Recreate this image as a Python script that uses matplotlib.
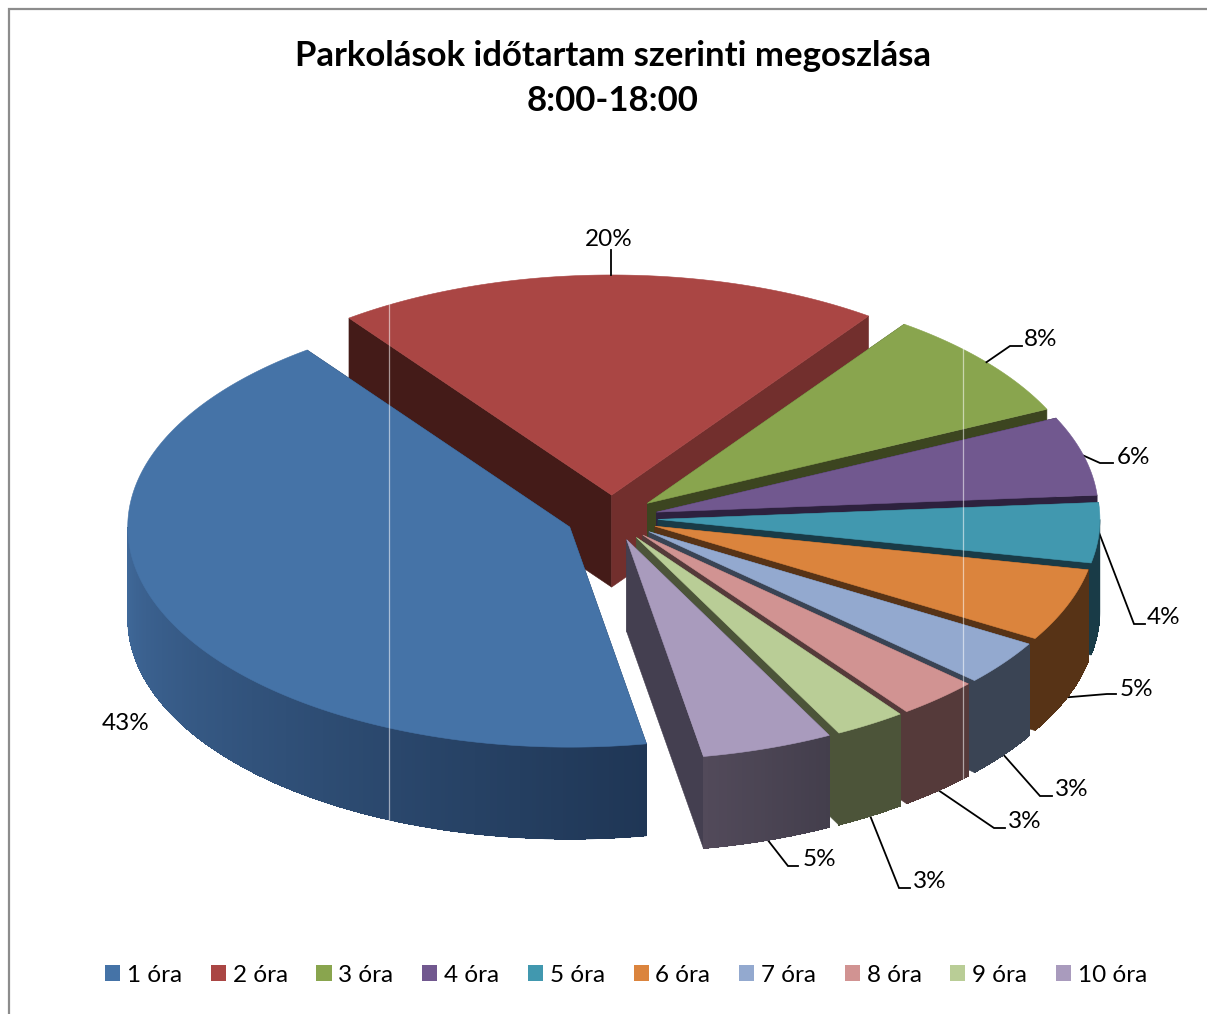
import numpy as np
import matplotlib
matplotlib.use("Agg")
import matplotlib.pyplot as plt
from matplotlib.patches import Polygon, Patch
from matplotlib.colors import to_rgb

# ---- data ----
categories = ["1 óra", "2 óra", "3 óra", "4 óra", "5 óra", "6 óra", "7 óra", "8 óra", "9 óra", "10 óra"]
shares = [42.65, 20.0, 8.1, 5.8, 4.4, 5.35, 3.3, 3.0, 2.6, 4.8]
title_lines = ["Parkolások időtartam szerinti megoszlása", "8:00-18:00"]

# ---- style ----
top_colors = ["#4573a7", "#aa4644", "#89a54e", "#71588f", "#4198af",
              "#db843d", "#93a9cf", "#d19392", "#b9cd96", "#a99bbd"]
wall_near = ["#40699a", "#722f2d", "#4c5439", "#2d213e", "#193b47",
             "#573316", "#3a4454", "#553a3a", "#4c5439", "#524a5a"]
wall_far = ["#1f3655", "#722f2d", "#4c5439", "#2d213e", "#193b47",
            "#573316", "#3a4454", "#553a3a", "#4c5439", "#433e4c"]
cut_end = ["#1f3655", "#722f2d", "#3c4520", "#2d213e", "#193b47",
           "#573316", "#3a4454", "#553a3a", "#4c5439", "#443f50"]
cut_start = ["#1f3655", "#441b18", "#3c4520", "#2d213e", "#193b47",
             "#573316", "#3a4454", "#553a3a", "#4c5439", "#443f50"]

W, H = 1207, 1014
CX, CY = 612, 518
RX, SQUASH = 442, 0.498
EXPLODE = 46
DEPTH = 92
START = 170.0
FS_LABEL = 17.5

# leader routes: slice index -> elbow, end, label centre
leaders = {
    1: [(611, 250), (611, 250), (609, 240)],
    2: [(1010, 346), (1022, 346), (1041, 340)],
    3: [(1100, 463), (1113, 463), (1133, 457)],
    4: [(1134, 624), (1145, 624), (1164, 617)],
    5: [(1107, 694), (1116, 694), (1136, 689)],
    6: [(1040, 796), (1052, 796), (1072, 790)],
    7: [(994, 828), (1005, 828), (1025, 822)],
    8: [(899, 888), (910, 888), (930, 882)],
    9: [(788, 866), (798, 866), (819, 860)],
}
leader_anchor_drop = {1: 0, 2: 0, 3: 0, 4: 0, 5: DEPTH, 6: DEPTH, 7: DEPTH, 8: DEPTH, 9: DEPTH}
label_plain = {0: (126, 723)}

plt.rcParams["font.family"] = ["Lato", "DejaVu Sans"]
fig = plt.figure(figsize=(W / 100, H / 100), dpi=100, facecolor="white")
ax = fig.add_axes([0, 0, 1, 1])
ax.set_xlim(0, W)
ax.set_ylim(H, 0)
ax.axis("off")

spans = np.array(shares) / sum(shares) * 360
starts = (START + np.concatenate([[0], np.cumsum(spans)[:-1]])) % 360
ends = starts + spans


def apex_of(mid):
    m = np.radians(mid)
    return np.array([CX + EXPLODE * np.sin(m), CY - EXPLODE * SQUASH * np.cos(m)])


def rim(apex, deg):
    d = np.radians(deg)
    return np.column_stack([apex[0] + RX * np.sin(d), apex[1] - RX * SQUASH * np.cos(d)])


def mix(a, b, t):
    a, b = np.array(to_rgb(a)), np.array(to_rgb(b))
    return tuple(a + (b - a) * t)


z = 2
anchors = {}
# painter's order: from the back of the pie to the front, the big slice last
for i in [1, 2, 3, 4, 5, 6, 7, 8, 9, 0]:
    a0, a1 = starts[i], ends[i]
    mid = (a0 + a1) / 2
    ap = apex_of(mid)
    down = np.array([0, DEPTH])
    for deg, col in ((a0, cut_start[i]), (a1, cut_end[i])):
        p = rim(ap, np.array([deg]))[0]
        ax.add_patch(Polygon([ap, p, p + down, ap + down], closed=True, fc=col, ec=col, lw=0.4, zorder=z))
        z += 1
    # outer wall, lower half of the ellipse only
    lo = max(a0, 90)
    hi = min(a1, 270)
    if hi > lo:
        n = max(int((hi - lo) * 2), 2)
        grid = np.linspace(lo, hi, n + 1)
        pts = rim(ap, grid)
        ax.add_patch(Polygon(np.vstack([pts, pts[::-1] + down]), closed=True,
                             fc=mix(wall_far[i], wall_near[i], 0.5),
                             ec=mix(wall_far[i], wall_near[i], 0.5), lw=0.4, zorder=z))
        z += 1
        for k in range(n):
            g = (grid[k] + grid[k + 1]) / 2
            t = (g - lo) / (hi - lo)
            col = mix(wall_far[i], wall_near[i], t)
            ax.add_patch(Polygon([pts[k], pts[k + 1], pts[k + 1] + down, pts[k] + down],
                                 closed=True, fc=col, ec="none", lw=0, antialiased=False, zorder=z))
        z += 1
    arc = rim(ap, np.linspace(a0, a1, max(int(a1 - a0) * 2, 4)))
    ax.add_patch(Polygon(np.vstack([ap, arc]), closed=True, fc=top_colors[i],
                         ec=top_colors[i], lw=0.4, zorder=z))
    z += 1
    anchors[i] = rim(ap, np.array([mid]))[0]

# faint rendering seams that cross the pie
ax.plot([389, 389], [300, 822], color="white", lw=0.9, alpha=0.55, zorder=z)
ax.plot([963, 963], [349, 778], color="white", lw=0.9, alpha=0.55, zorder=z)
z += 1

for i, (elbow, end, lab) in leaders.items():
    start = anchors[i] + np.array([0, leader_anchor_drop[i]])
    sx = elbow[0] if elbow == end else start[0]
    ax.plot([sx, elbow[0], end[0]], [start[1], elbow[1], end[1]],
            color="black", lw=1.3, solid_joinstyle="miter", zorder=z - 40)
    ax.text(lab[0], lab[1], f"{shares[i]:.0f}%", ha="center", va="center",
            fontsize=FS_LABEL, color="black", zorder=z + 1)
for i, lab in label_plain.items():
    ax.text(lab[0], lab[1], f"{shares[i]:.0f}%", ha="center", va="center",
            fontsize=FS_LABEL, color="black", zorder=z + 1)

ax.text(613, 56, title_lines[0], ha="center", va="center", fontsize=25, fontweight="bold", color="black")
ax.text(613, 101, title_lines[1], ha="center", va="center", fontsize=25, fontweight="bold", color="black")

handles = [Patch(fc=c, ec=c, lw=0) for c in top_colors]
ax.legend(handles, categories, ncol=10, loc="center", bbox_to_anchor=(626, 975),
          bbox_transform=ax.transData, frameon=False, fontsize=FS_LABEL,
          handlelength=0.62, handleheight=0.62, handletextpad=0.28, columnspacing=1.18,
          borderpad=0, borderaxespad=0)

# chart frame
ax.plot([9, 9, W], [H, 9, 9], color="#8c8c8c", lw=1.6, zorder=1, solid_joinstyle="miter")

fig.savefig("out.png", dpi=100)
